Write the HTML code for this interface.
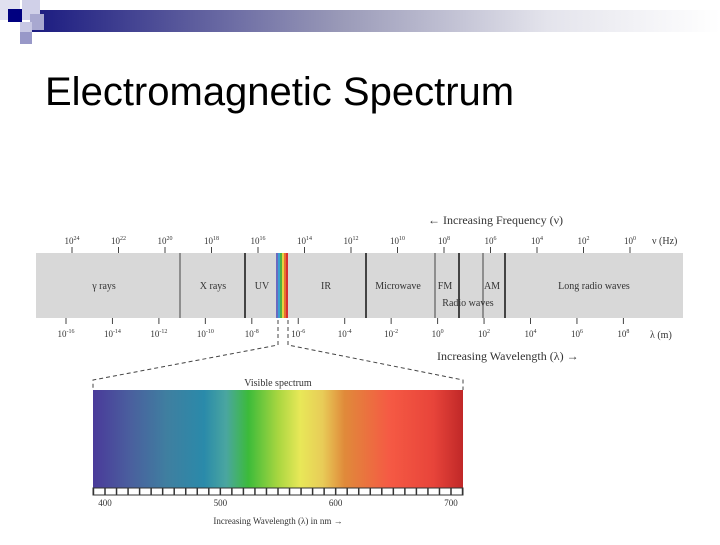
<!DOCTYPE html>
<html><head><meta charset="utf-8"><style>
body{margin:0;background:#fff;width:720px;height:540px;overflow:hidden;font-family:"Liberation Sans",sans-serif}
svg text{font-family:"Liberation Serif",serif;fill:#333}
</style></head><body>
<svg width="720" height="540" viewBox="0 0 720 540">
<defs>
<linearGradient id="hdr" x1="0" x2="1"><stop offset="0" stop-color="#1a1a80"/><stop offset="0.45" stop-color="#9a9ab8"/><stop offset="0.75" stop-color="#e4e4ec"/><stop offset="1" stop-color="#fff"/></linearGradient>
<linearGradient id="vis" x1="0" x2="1">
<stop offset="0" stop-color="#4a3a9a"/><stop offset="0.1" stop-color="#4a5f9e"/><stop offset="0.2" stop-color="#3f7fa0"/><stop offset="0.3" stop-color="#2a8aaa"/><stop offset="0.36" stop-color="#4aa6a0"/><stop offset="0.42" stop-color="#3cbb3a"/><stop offset="0.5" stop-color="#a8d640"/><stop offset="0.56" stop-color="#e8e858"/><stop offset="0.62" stop-color="#e8cc58"/><stop offset="0.68" stop-color="#e08a3a"/><stop offset="0.8" stop-color="#f55a44"/><stop offset="0.92" stop-color="#e8443a"/><stop offset="1" stop-color="#c02828"/></linearGradient>
</defs>
<g>
<rect x="32" y="10" width="688" height="22" fill="url(#hdr)"/>
<rect x="0" y="0" width="20" height="20" fill="#e0e0f0"/>
<rect x="8" y="9" width="14" height="13" fill="#000080"/>
<rect x="22" y="0" width="18" height="20" fill="#d0d0e8"/>
<rect x="30" y="14" width="14" height="16" fill="#a8a8d0"/>
<rect x="20" y="22" width="12" height="12" fill="#c8c8e4"/>
<rect x="20" y="32" width="12" height="12" fill="#9898c8"/>
</g>
<text x="45" y="105" font-size="40" style="font-family:'Liberation Sans',sans-serif;fill:#000">Electromagnetic Spectrum</text>
<g id="em"></g>
<g id="vs"></g>
</svg>
<script>
const freqExps=[24,22,20,18,16,14,12,10,8,6,4,2,0];
const waveExps=[-16,-14,-12,-10,-8,-6,-4,-2,0,2,4,6,8];
const regionNames=["γ rays","X rays","UV","IR","Microwave","FM","AM","Long radio waves"];
const regionCenters=[104,213,262,326,398,445,492,594];
const dividerPositions=[180,245,366,435,459,483,505];
const visTicks=[400,500,600,700];
const NS="http://www.w3.org/2000/svg";
function mk(p,t,a,txt){const e=document.createElementNS(NS,t);for(const k in a)e.setAttribute(k,a[k]);if(txt!=null)e.textContent=txt;p.appendChild(e);return e;}
const em=document.getElementById('em');
const fx=i=>72+i*46.5, wx=i=>66+i*46.45;
const band=mk(em,'rect',{x:36,y:253,width:647,height:65,fill:'#d8d8d8'});


freqExps.forEach((e,i)=>{
 const x=fx(i);
 mk(em,'line',{x1:x,x2:x,y1:247,y2:253,stroke:'#444'});
 const t=mk(em,'text',{x:x,y:244,'font-size':9,'text-anchor':'middle'});
 
 
 t.appendChild(document.createTextNode('10'));mk(t,'tspan',{dy:-4,'font-size':6},e);
});
waveExps.forEach((e,i)=>{
 const x=wx(i);
 mk(em,'line',{x1:x,x2:x,y1:318,y2:324,stroke:'#444'});
 const t=mk(em,'text',{x:x,y:337,'font-size':9,'text-anchor':'middle'});
 
 
 t.appendChild(document.createTextNode('10'));mk(t,'tspan',{dy:-4,'font-size':6},e);
});
dividerPositions.forEach((x,i)=>{
 mk(em,'line',{x1:x,x2:x,y1:253,y2:318,stroke:'#444','stroke-width':(i==0||i==3||i==5)?1:2});
});
["#6a6ac0","#3aa0d0","#50b040","#e8d040","#e87030","#d83030"].forEach((c,i)=>mk(em,'rect',{x:276+i*2,y:253,width:2,height:65,fill:c}));
regionNames.forEach((n,i)=>{
 const t=mk(em,'text',{x:regionCenters[i],y:289,'font-size':10,'text-anchor':'middle'},n);
 
 
});
mk(em,'text',{x:468,y:306,'font-size':10,'text-anchor':'middle'},'Radio waves');
mk(em,'text',{x:428,y:224,'font-size':12},'← Increasing Frequency (ν)');
mk(em,'text',{x:652,y:244,'font-size':10},'ν (Hz)');
mk(em,'text',{x:650,y:338,'font-size':10},'λ (m)');
mk(em,'text',{x:437,y:360,'font-size':12},'Increasing Wavelength (λ) →');
const d={stroke:'#444','stroke-dasharray':'4,3',fill:'none'};
mk(em,'path',Object.assign({d:'M278 320 V345 L93 380 V390'},d));
mk(em,'path',Object.assign({d:'M288 320 V345 L463 380 V390'},d));
const vs=document.getElementById('vs');
mk(vs,'text',{x:278,y:386,'font-size':10,'text-anchor':'middle'},'Visible spectrum');
mk(vs,'rect',{x:93,y:390,width:370,height:98,fill:'url(#vis)'});
mk(vs,'rect',{x:93,y:488,width:370,height:7,fill:'#fff',stroke:'#333'});
const vx=v=>105+(v-400)*(451-105)/300;
for(let v=390;v<=710;v+=10){const x=vx(v);if(x>=93&&x<=463)mk(vs,'line',{x1:x,x2:x,y1:488,y2:495,stroke:'#333','stroke-width':1.5});}
visTicks.forEach(v=>{
 const t=mk(vs,'text',{x:vx(v),y:506,'font-size':9,'text-anchor':'middle'},v);
 
 
});
mk(vs,'text',{x:278,y:524,'font-size':9,'text-anchor':'middle'},'Increasing Wavelength (λ) in nm →');
</script>
</body></html>
